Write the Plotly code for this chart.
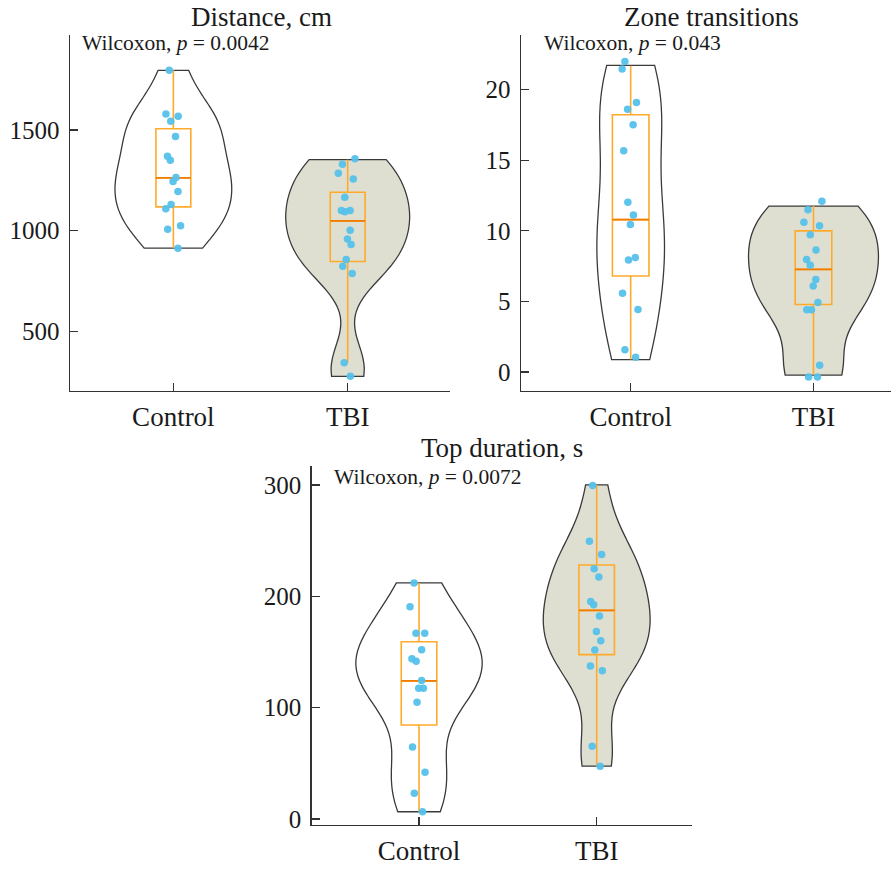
import numpy as np
import plotly.graph_objects as go

W, H = 891, 872
categories = ["Control", "TBI"]

# ---- Panel 1: Distance, cm ----
dist_control = [1795, 1579, 1567, 1543, 1467, 1369, 1349, 1264, 1244, 1194, 1130, 1108, 1024, 1007, 913]
dist_tbi = [1356, 1329, 1285, 1256, 1166, 1100, 1100, 1093, 1002, 958, 931, 857, 823, 787, 344, 277]
dist_q1 = [1118, 847]
dist_median = [1262, 1048]
dist_q3 = [1505, 1190]
dist_lowerfence = [913, 344]
dist_upperfence = [1795, 1352]
dist_span_control = [913, 1795]
dist_span_tbi = [277, 1352]

# ---- Panel 2: Zone transitions ----
zone_control = [21.99, 21.47, 19.09, 18.62, 17.52, 15.68, 12.03, 11.12, 10.44, 8.10, 7.93, 5.57, 4.42, 1.57, 1.03]
zone_tbi = [12.10, 11.49, 10.60, 10.36, 9.71, 8.63, 7.96, 7.56, 6.55, 6.08, 4.91, 4.40, 4.40, 0.47, -0.37, -0.37]
zone_q1 = [6.79, 4.77]
zone_median = [10.79, 7.26]
zone_q3 = [18.22, 9.99]
zone_lowerfence = [0.87, -0.23]
zone_upperfence = [21.70, 11.75]
zone_span_control = [0.87, 21.73]
zone_span_tbi = [-0.23, 11.75]

# ---- Panel 3: Top duration, s ----
top_control = [212.0, 190.6, 166.9, 166.9, 152.0, 144.0, 141.7, 124.5, 117.4, 117.4, 104.9, 64.6, 42.1, 23.1, 6.6]
top_tbi = [299.4, 249.3, 237.4, 224.7, 217.3, 195.3, 192.4, 182.3, 168.4, 160.0, 151.8, 137.3, 133.1, 65.3, 47.5]
top_q1 = [84.5, 147.6]
top_median = [124.1, 187.3]
top_q3 = [159.2, 228.0]
top_lowerfence = [6.6, 47.5]
top_upperfence = [212.0, 300.0]
top_span_control = [6.6, 212.0]
top_span_tbi = [47.5, 300.0]

titles = ["Distance, cm", "Zone transitions", "Top duration, s"]
pvalues = ["0.0042", "0.043", "0.0072"]

FONT = "Liberation Serif"
VIOLIN_LINE = "#3a3a3a"
TBI_FILL = "#dfdfd1"
BOX_COLOR = "#FFAA2A"
MEDIAN_COLOR = "#F07C00"
POINT_COLOR = "#55C1EA"


def nrd0(v):
    v = np.asarray(v, dtype=float)
    sd = v.std(ddof=1)
    iqr = np.subtract(*np.percentile(v, [75, 25]))
    lo = min(sd, iqr / 1.34) if iqr > 0 else sd
    return 0.9 * lo * len(v) ** (-0.2)


fig = go.Figure()

panels = [
    dict(ax="", ctrl=dist_control, tbi=dist_tbi, q1=dist_q1, med=dist_median, q3=dist_q3,
         lf=dist_lowerfence, uf=dist_upperfence, sc=dist_span_control, st=dist_span_tbi,
         wc=0.67, wt=0.71),
    dict(ax="2", ctrl=zone_control, tbi=zone_tbi, q1=zone_q1, med=zone_median, q3=zone_q3,
         lf=zone_lowerfence, uf=zone_upperfence, sc=zone_span_control, st=zone_span_tbi,
         wc=0.37, wt=0.71),
    dict(ax="3", ctrl=top_control, tbi=top_tbi, q1=top_q1, med=top_median, q3=top_q3,
         lf=top_lowerfence, uf=top_upperfence, sc=top_span_control, st=top_span_tbi,
         wc=0.71, wt=0.60),
]

for p in panels:
    xa, ya = "x" + p["ax"], "y" + p["ax"]
    # violins
    for cat, vals, span, fill, wid in [
        ("Control", p["ctrl"], p["sc"], "white", p["wc"]),
        ("TBI", p["tbi"], p["st"], TBI_FILL, p["wt"]),
    ]:
        fig.add_trace(go.Violin(
            x=[cat] * len(vals), y=vals, xaxis=xa, yaxis=ya,
            spanmode="manual", span=span, bandwidth=nrd0(vals),
            fillcolor=fill, line=dict(color=VIOLIN_LINE, width=1.3),
            points=False, box=dict(visible=False), meanline=dict(visible=False),
            width=wid, scalemode="width", opacity=1, hoverinfo="skip", showlegend=False,
        ))
    # boxes
    fig.add_trace(go.Box(
        x=categories, q1=p["q1"], median=p["med"], q3=p["q3"],
        lowerfence=p["lf"], upperfence=p["uf"], xaxis=xa, yaxis=ya,
        width=0.2, whiskerwidth=0, boxpoints=False,
        fillcolor="rgba(0,0,0,0)", line=dict(color=BOX_COLOR, width=1.6),
        hoverinfo="skip", showlegend=False,
    ))
    # medians (darker)
    fig.add_trace(go.Box(
        x=categories, q1=p["med"], median=p["med"], q3=p["med"],
        lowerfence=p["med"], upperfence=p["med"], xaxis=xa, yaxis=ya,
        width=0.2, whiskerwidth=0, boxpoints=False,
        fillcolor="rgba(0,0,0,0)", line=dict(color=MEDIAN_COLOR, width=1.8),
        hoverinfo="skip", showlegend=False,
    ))
    # jittered points
    for cat, vals in [("Control", p["ctrl"]), ("TBI", p["tbi"])]:
        fig.add_trace(go.Box(
            x=[cat] * len(vals), y=vals, xaxis=xa, yaxis=ya,
            boxpoints="all", jitter=0.55, pointpos=0, width=0.2,
            fillcolor="rgba(0,0,0,0)", line=dict(color="rgba(0,0,0,0)", width=0),
            marker=dict(color=POINT_COLOR, size=7.5, opacity=0.95),
            hoverinfo="skip", showlegend=False,
        ))

axis_common = dict(
    showline=True, linecolor="#333333", linewidth=1.5, mirror=False,
    ticks="inside", ticklen=8, tickwidth=1.4, tickcolor="#333333",
    showgrid=False, zeroline=False, fixedrange=True,
)
xfont = dict(family=FONT, size=27, color="#1a1a1a")
yfont = dict(family=FONT, size=25, color="#1a1a1a")


def px_x(v):
    return v / W


def px_y(v):
    return 1 - v / H


layout = dict(
    width=W, height=H, margin=dict(l=0, r=0, t=0, b=0),
    paper_bgcolor="white", plot_bgcolor="white",
    boxmode="overlay", violinmode="overlay", showlegend=False,
    xaxis=dict(axis_common, domain=[px_x(70), px_x(450)], type="category",
               categoryorder="array", categoryarray=categories,
               range=[-0.593, 1.587], tickfont=xfont, anchor="y", ticklabelstandoff=1),
    yaxis=dict(axis_common, domain=[px_y(394.5), px_y(35)], range=[205, 1972],
               tickvals=[500, 1000, 1500], tickfont=yfont, anchor="x", ticklabelstandoff=4),
    xaxis2=dict(axis_common, domain=[px_x(521), 1.0], type="category",
                categoryorder="array", categoryarray=categories,
                range=[-0.6, 1.424], tickfont=xfont, anchor="y2", ticklabelstandoff=1),
    yaxis2=dict(axis_common, domain=[px_y(394.5), px_y(35)], range=[-1.35, 23.9],
                tickvals=[0, 5, 10, 15, 20], tickfont=yfont, anchor="x2", ticklabelstandoff=4),
    xaxis3=dict(axis_common, domain=[px_x(311.7), px_x(692.3)], type="category",
                categoryorder="array", categoryarray=categories,
                range=[-0.604, 1.538], tickfont=xfont, anchor="y3", ticklabelstandoff=1),
    yaxis3=dict(axis_common, domain=[px_y(832.3), px_y(470)], range=[-5, 317.2],
                tickvals=[0, 100, 200, 300], tickfont=yfont, anchor="x3", ticklabelstandoff=4),
)
fig.update_layout(**layout)

title_pos = [(261.7, 17.5), (711.3, 17.5), (502, 451.7)]
wil_pos = [(80, 43.3), (541.7, 43.3), (331.7, 481.7)]
for t, (tx, ty) in zip(titles, title_pos):
    fig.add_annotation(text=t, x=px_x(tx), y=px_y(ty), xref="paper", yref="paper",
                       xanchor="center", yanchor="middle", showarrow=False,
                       font=dict(family=FONT, size=27, color="#1a1a1a"))
for pv, (wx, wy) in zip(pvalues, wil_pos):
    fig.add_annotation(text="Wilcoxon, <i>p</i> = " + pv, x=px_x(wx), y=px_y(wy),
                       xref="paper", yref="paper", xanchor="left", yanchor="middle",
                       showarrow=False, font=dict(family=FONT, size=21.5, color="#1a1a1a"))

fig.write_html(
    "out.html",
    config={"displayModeBar": False, "staticPlot": True},
    post_script="document.body.style.margin='0';document.body.style.overflow='hidden';",
)
